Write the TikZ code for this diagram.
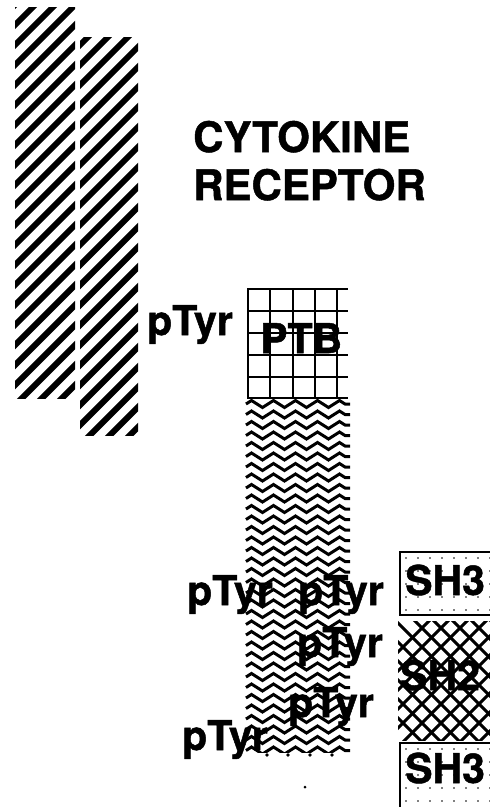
\documentclass[tikz,border=0pt]{standalone}
\usepackage{fontspec}
\setmainfont{TeX Gyre Heros}[BoldFont={TeX Gyre Heros Bold}, BoldFeatures={FakeBold=1.2}]
\usetikzlibrary{positioning,decorations.pathmorphing}

\begin{document}
\begin{tikzpicture}[
    x=1pt, y=-1pt,
    lbl/.style={
        anchor=base west,
        inner sep=0pt,
        font=\fontsize{41}{48}\selectfont\bfseries
    },
    hatchline/.style={line width=6pt},
    gridline/.style={line width=2.8pt},
    zig/.style={
        line width=3pt,
        decorate,
        decoration={zigzag, segment length=22pt, amplitude=3.5pt}
    },
    chainline/.style={line width=3pt},
    boxedge/.style={line width=1.6pt}
]
    \useasboundingbox (0,0) rectangle (490,807);

    % Receptor chains
    \begin{scope}
        \clip (15,7) rectangle (75,398);
        \foreach \k in {0,...,24}
            \draw[hatchline] (10,{10+20*\k}) -- ++(80,-80);
    \end{scope}
    \begin{scope}
        \clip (80,37) rectangle (138,435);
        \foreach \k in {0,...,26}
            \draw[hatchline] (75,{30+20*\k}) -- ++(80,-80);
    \end{scope}

    % PTB domain
    \foreach \gx in {248,270,293,315,337}
        \draw[gridline] (\gx,289) -- (\gx,398);
    \foreach \gy in {289,311,333,355,377,398}
        \draw[gridline] (247,\gy) -- (348,\gy);

    % Wavy region
    \begin{scope}
        \clip (244,399) rectangle (350,752);
        \foreach \r in {0,...,33}
            \draw[zig] (246,{404+10.5*\r}) -- (352,{404+10.5*\r});
    \end{scope}
    \foreach \dx in {267,288,310,332}
        \fill (\dx,755) circle (1.8pt);
    \fill (305,787) circle (1.5pt);

    % SH3 (upper)
    \foreach \i in {0,...,7}
        \foreach \j in {0,...,4}
            \fill ({406+12*\i},{558+13*\j}) circle (0.8pt);
    \draw[boxedge] (492,552) -| (400,615) -- (492,615);

    % SH2
    \begin{scope}
        \clip (398,621) rectangle (492,740);
        \foreach \k in {0,...,13} {
            \draw[chainline] ({300+19*\k},620) -- ++(130,130);
            \draw[chainline] ({300+19*\k},750) -- ++(130,-130);
        }
    \end{scope}

    % SH3 (lower)
    \foreach \i in {0,...,7}
        \foreach \j in {0,...,4}
            \fill ({406+12*\i},{749+13*\j}) circle (0.8pt);
    \draw[boxedge] (492,743) -| (400,810);

    % Labels
    \node[lbl, font=\fontsize{42}{48}\selectfont\bfseries] (cyto) at (193,152) {CYTOKINE};
    \node[lbl, font=\fontsize{42}{48}\selectfont\bfseries] (recep) at ([yshift=-48pt]cyto.base west) {RECEPTOR};

    \node[lbl] (ptyr1) at (147,335) {pTyr};
    \node[lbl] (ptb) at (260,353) {PTB};

    \node[lbl] (ptyr2) at (187,605) {pTyr};
    \node[lbl] (ptyr3) at (298,605) {pTyr};
    \node[lbl] (sh3a) at (405,595) {SH3};
    \node[lbl] (ptyr4) at (297,657) {pTyr};
    \node[lbl] (sh2) at (400,690) {SH2};
    \node[lbl] (ptyr5) at (288,717) {pTyr};
    \node[lbl] (ptyr6) at (182,750) {pTyr};
    \node[lbl] (sh3b) at (405,783) {SH3};

\end{tikzpicture}
\end{document}
